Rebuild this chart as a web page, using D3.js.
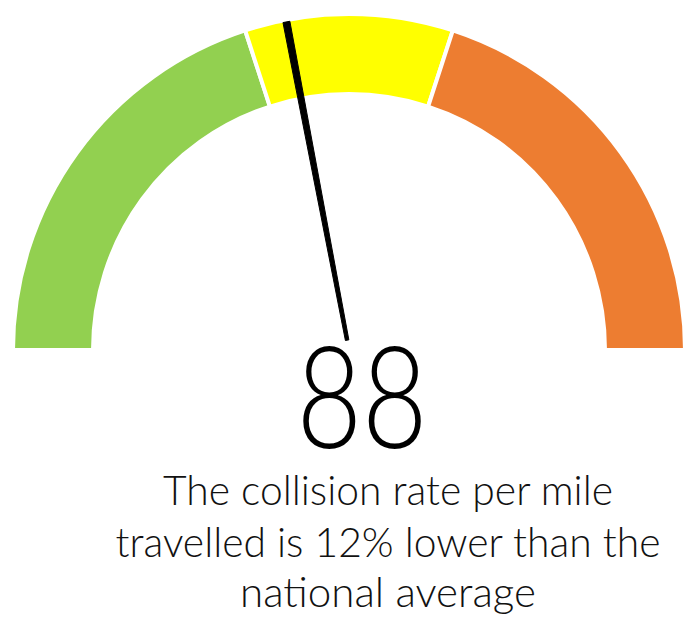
<!DOCTYPE html>
<html>
<head>
<meta charset="utf-8">
<script src="https://cdn.jsdelivr.net/npm/d3@7"></script>
<style>
  html, body { margin: 0; padding: 0; background: #fff; }
  svg { display: block; }
</style>
</head>
<body>
<div id="chart"></div>
<script>
// ---- data ----
const bandBounds = [0, 80, 120, 200];
const bandColors = ["#92D050", "#FFFF00", "#ED7D31"];
const needleValue = 88;
const valueLabel = "88";
const captionLines = ["The collision rate per mile", "travelled is 12% lower than the", "national average"];

// ---- layout ----
const W = 686, H = 617;
const cx = 349, cy = 350;
const rOuter = 336, rInner = 256;

const svg = d3.select("#chart").append("svg").attr("width", W).attr("height", H);

const angle = d3.scaleLinear().domain([bandBounds[0], bandBounds[bandBounds.length - 1]]).range([-Math.PI / 2, Math.PI / 2]);

const bands = bandColors.map((c, i) => ({ start: bandBounds[i], end: bandBounds[i + 1], color: c }));

const arc = d3.arc().innerRadius(rInner).outerRadius(rOuter)
  .startAngle(d => angle(d.start)).endAngle(d => angle(d.end));

const g = svg.append("g").attr("transform", `translate(${cx},${cy})`);
g.selectAll("path.band").data(bands).join("path")
  .attr("class", "band")
  .attr("d", arc)
  .attr("fill", d => d.color)
  .attr("stroke", "#fff")
  .attr("stroke-width", 4);

// needle: tapered polygon
const a = angle(needleValue);
const tipR = 334, baseR = 10, wTip = 7, wBase = 3.5;
const ux = Math.sin(a), uy = -Math.cos(a);
const px = Math.cos(a), py = Math.sin(a);
const pts = [
  [ux * baseR - px * wBase / 2, uy * baseR - py * wBase / 2],
  [ux * tipR - px * wTip / 2, uy * tipR - py * wTip / 2],
  [ux * tipR + px * wTip / 2, uy * tipR + py * wTip / 2],
  [ux * baseR + px * wBase / 2, uy * baseR + py * wBase / 2]
];
g.append("path")
  .attr("d", d3.line()(pts) + "Z")
  .attr("fill", "#000")
  .attr("stroke", "#000")
  .attr("stroke-width", 1)
  .attr("stroke-linejoin", "round");

// value label
svg.append("text")
  .attr("x", 362).attr("y", 448)
  .attr("text-anchor", "middle")
  .attr("font-family", "Lato, 'Open Sans', Roboto, sans-serif")
  .attr("font-weight", 300)
  .attr("font-size", 143)
  .attr("fill", "#000")
  .attr("textLength", 131)
  .attr("lengthAdjust", "spacingAndGlyphs")
  .text(valueLabel);

// caption
const capBaselines = [505, 557, 607];
const capWidths = [450, 545, 296];
svg.selectAll("text.cap").data(captionLines).join("text")
  .attr("class", "cap")
  .attr("x", 388)
  .attr("y", (d, i) => capBaselines[i])
  .attr("text-anchor", "middle")
  .attr("font-family", "Lato, 'Open Sans', Roboto, sans-serif")
  .attr("font-weight", 300)
  .attr("font-size", 42)
  .attr("fill", "#111")
  .attr("textLength", (d, i) => capWidths[i])
  .attr("lengthAdjust", "spacingAndGlyphs")
  .text(d => d);
</script>
</body>
</html>
